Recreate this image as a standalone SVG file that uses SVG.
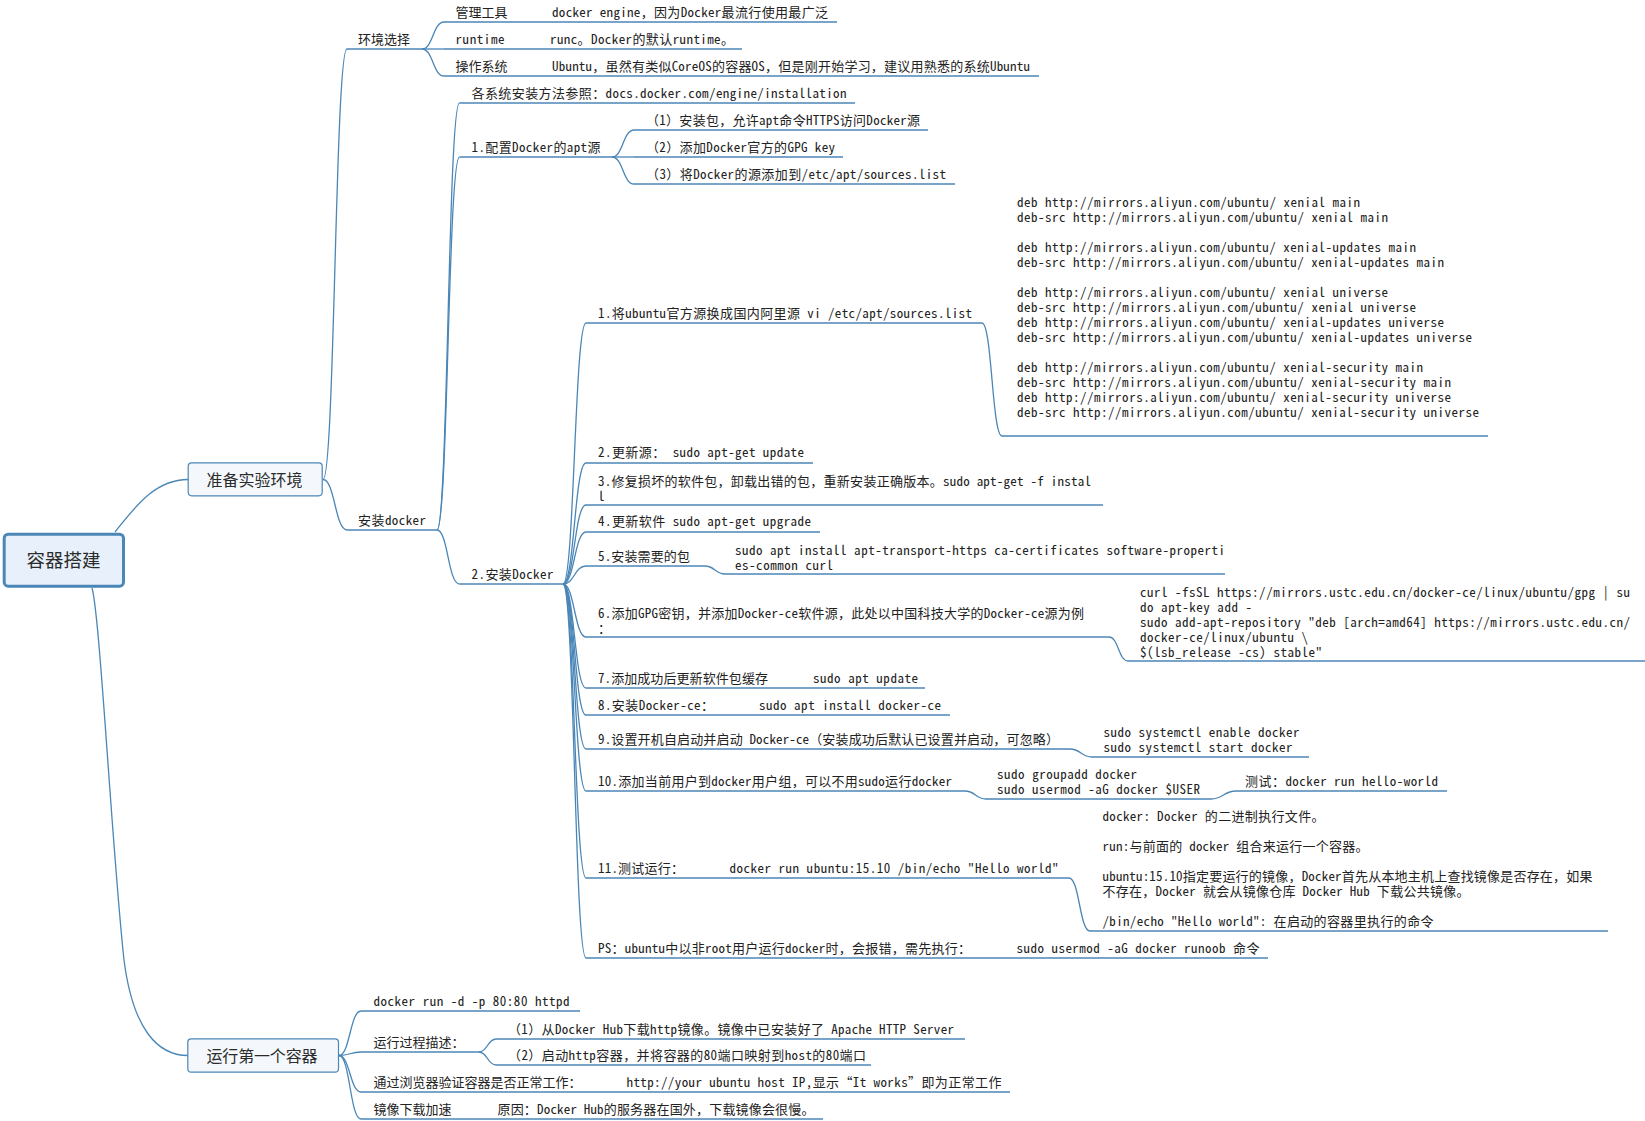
<svg xmlns="http://www.w3.org/2000/svg" width="1645" height="1121" viewBox="0 0 1645 1121">
<style>
.c{fill:none;stroke:#4a86b6;stroke-width:1.3}
.u{fill:none;stroke:#4a86b6;stroke-width:1.3}
.t{font-family:"Noto Sans Mono CJK SC","Noto Sans CJK SC",monospace;font-size:13px;fill:#222}
.big{font-family:"Noto Sans CJK SC",sans-serif;fill:#2b2b2b;text-anchor:middle}
.box{fill:#f4f8fc;stroke:#4a86b6;stroke-width:1.2}
.rootbox{fill:#e8f1fb;stroke:#4a86b6;stroke-width:3}
</style>
<rect width="1645" height="1121" fill="#ffffff"/>
<g id="connectors">
<path class="c" d="M115,532 C135,507 155,479.5 188,479.5"/>
<path class="c" d="M92,588 C100,615 112,850 124,960 C133,1030 158,1055.5 188,1055.5"/>
<path class="c" d="M323,479.5 C335,479.5 335,49 347,49"/>
<path class="c" d="M323,479.5 C335,479.5 335,530 347,530"/>
<path class="c" d="M422,49 C433,49 433,22 444,22"/>
<path class="c" d="M422,49 L444,49"/>
<path class="c" d="M422,49 C433,49 433,76 444,76"/>
<path class="c" d="M437,530 C448,530 448,103 459.5,103"/>
<path class="c" d="M437,530 C448,530 448,157 459.5,157"/>
<path class="c" d="M437,530 C448,530 448,584 459.5,584"/>
<path class="c" d="M612,157 C623,157 623,130 634,130"/>
<path class="c" d="M612,157 L634,157"/>
<path class="c" d="M612,157 C623,157 623,184 634,184"/>
<path class="c" d="M563,584 C574.5,584 574.5,323 586,323"/>
<path class="c" d="M563,584 C574.5,584 574.5,463 586,463"/>
<path class="c" d="M563,584 C574.5,584 574.5,505 586,505"/>
<path class="c" d="M563,584 C574.5,584 574.5,532 586,532"/>
<path class="c" d="M563,584 C574.5,584 574.5,566 586,566"/>
<path class="c" d="M563,584 C574.5,584 574.5,637 586,637"/>
<path class="c" d="M563,584 C574.5,584 574.5,688 586,688"/>
<path class="c" d="M563,584 C574.5,584 574.5,715 586,715"/>
<path class="c" d="M563,584 C574.5,584 574.5,749 586,749"/>
<path class="c" d="M563,584 C574.5,584 574.5,791 586,791"/>
<path class="c" d="M563,584 C574.5,584 574.5,878 586,878"/>
<path class="c" d="M563,584 C574.5,584 574.5,958 586,958"/>
<path class="c" d="M982,323 C992,323 992,436 1002,436"/>
<path class="c" d="M705,566 C715,566 715,574 725,574"/>
<path class="c" d="M1109,637 C1118.5,637 1118.5,661 1128,661"/>
<path class="c" d="M1070,749 C1081,749 1081,757 1092,757"/>
<path class="c" d="M965,791 C975.5,791 975.5,799 986,799"/>
<path class="c" d="M1211,799 C1223.5,799 1223.5,791 1236,791"/>
<path class="c" d="M1069,878 C1079.5,878 1079.5,931 1090,931"/>
<path class="c" d="M339,1055.5 C350,1055.5 350,1011 361,1011"/>
<path class="c" d="M339,1055.5 C350,1055.5 350,1052 361,1052"/>
<path class="c" d="M339,1055.5 C350,1055.5 350,1092 361,1092"/>
<path class="c" d="M339,1055.5 C350,1055.5 350,1119 361,1119"/>
<path class="c" d="M479,1052 C487.5,1052 487.5,1039 496,1039"/>
<path class="c" d="M479,1052 C487.5,1052 487.5,1065 496,1065"/>
</g>

<g id="n-root">
<rect class="rootbox" x="4.2" y="534.2" width="119.3" height="52" rx="4"/>
<text class="big" x="63.5" y="567" font-size="18.5" textLength="74">容器搭建</text>
</g>
<g id="n-prep">
<rect class="box" x="188.2" y="462.8" width="134" height="33" rx="3.5"/>
<text class="big" x="254.5" y="485.5" font-size="16" textLength="96">准备实验环境</text>
</g>
<g id="n-run">
<rect class="box" x="187.8" y="1038.8" width="150.7" height="33.4" rx="3.5"/>
<text class="big" x="262" y="1061.5" font-size="16" textLength="111">运行第一个容器</text>
</g>

<g id="n-env"><line class="u" x1="347" y1="49" x2="422" y2="49"/><text class="t" x="358" y="43.5" textLength="52">环境选择</text></g>
<g id="n-tool"><line class="u" x1="444" y1="22" x2="837" y2="22"/><text class="t" x="455.5" y="16.5" textLength="52">管理工具</text><text class="t" x="552" y="16.5" textLength="276">docker engine，因为Docker最流行使用最广泛</text></g>
<g id="n-runtime"><line class="u" x1="444" y1="49" x2="742" y2="49"/><text class="t" x="455.5" y="43.5" textLength="49">runtime</text><text class="t" x="550" y="43.5" textLength="184">runc。Docker的默认runtime。</text></g>
<g id="n-os"><line class="u" x1="444" y1="76" x2="1039" y2="76"/><text class="t" x="455.5" y="70.5" textLength="52">操作系统</text><text class="t" x="552" y="70.5" textLength="478">Ubuntu，虽然有类似CoreOS的容器OS，但是刚开始学习，建议用熟悉的系统Ubuntu</text></g>

<g id="n-install"><line class="u" x1="347" y1="530" x2="437" y2="530"/><text class="t" x="358" y="524.5" textLength="68">安装docker</text></g>
<g id="n-ref"><line class="u" x1="459.5" y1="103" x2="855" y2="103"/><text class="t" x="471.5" y="97.5" textLength="375">各系统安装方法参照：docs.docker.com/engine/installation</text></g>
<g id="n-apt"><line class="u" x1="459.5" y1="157" x2="612" y2="157"/><text class="t" x="471.5" y="151.5" textLength="129">1.配置Docker的apt源</text></g>
<g id="n-apt1"><line class="u" x1="634" y1="130" x2="928" y2="130"/><text class="t" x="646" y="124.5" textLength="274">（1）安装包，允许apt命令HTTPS访问Docker源</text></g>
<g id="n-apt2"><line class="u" x1="634" y1="157" x2="843" y2="157"/><text class="t" x="646" y="151.5" textLength="189">（2）添加Docker官方的GPG key</text></g>
<g id="n-apt3"><line class="u" x1="634" y1="184" x2="955" y2="184"/><text class="t" x="646" y="178.5" textLength="300">（3）将Docker的源添加到/etc/apt/sources.list</text></g>
<g id="n-inst2"><line class="u" x1="459.5" y1="584" x2="563" y2="584"/><text class="t" x="471.5" y="578.5" textLength="82">2.安装Docker</text></g>

<g id="n-s1"><line class="u" x1="586" y1="323" x2="982" y2="323"/><text class="t" x="598" y="317.5" textLength="374">1.将ubuntu官方源换成国内阿里源 vi /etc/apt/sources.list</text></g>
<g id="n-deb"><line class="u" x1="1002" y1="436" x2="1488" y2="436"/>
<text class="t"><tspan x="1017" y="206.5" textLength="343">deb http://mirrors.aliyun.com/ubuntu/ xenial main</tspan><tspan x="1017" y="221.5" textLength="371">deb-src http://mirrors.aliyun.com/ubuntu/ xenial main</tspan><tspan x="1017" y="251.5" textLength="399">deb http://mirrors.aliyun.com/ubuntu/ xenial-updates main</tspan><tspan x="1017" y="266.5" textLength="427">deb-src http://mirrors.aliyun.com/ubuntu/ xenial-updates main</tspan><tspan x="1017" y="296.5" textLength="371">deb http://mirrors.aliyun.com/ubuntu/ xenial universe</tspan><tspan x="1017" y="311.5" textLength="399">deb-src http://mirrors.aliyun.com/ubuntu/ xenial universe</tspan><tspan x="1017" y="326.5" textLength="427">deb http://mirrors.aliyun.com/ubuntu/ xenial-updates universe</tspan><tspan x="1017" y="341.5" textLength="455">deb-src http://mirrors.aliyun.com/ubuntu/ xenial-updates universe</tspan><tspan x="1017" y="371.5" textLength="406">deb http://mirrors.aliyun.com/ubuntu/ xenial-security main</tspan><tspan x="1017" y="386.5" textLength="434">deb-src http://mirrors.aliyun.com/ubuntu/ xenial-security main</tspan><tspan x="1017" y="401.5" textLength="434">deb http://mirrors.aliyun.com/ubuntu/ xenial-security universe</tspan><tspan x="1017" y="416.5" textLength="462">deb-src http://mirrors.aliyun.com/ubuntu/ xenial-security universe</tspan></text>
</g>
<g id="n-s2"><line class="u" x1="586" y1="463" x2="813" y2="463"/><text class="t" x="598" y="457" textLength="206">2.更新源： sudo apt-get update</text></g>
<g id="n-s3"><line class="u" x1="586" y1="505" x2="1103" y2="505"/><text class="t"><tspan x="598" y="485.5" textLength="493">3.修复损坏的软件包，卸载出错的包，重新安装正确版本。sudo apt-get -f instal</tspan><tspan x="598" y="500.5">l</tspan></text></g>
<g id="n-s4"><line class="u" x1="586" y1="532" x2="820" y2="532"/><text class="t" x="598" y="526" textLength="213">4.更新软件 sudo apt-get upgrade</text></g>
<g id="n-s5"><line class="u" x1="586" y1="566" x2="705" y2="566"/><text class="t" x="598" y="560.5" textLength="92">5.安装需要的包</text></g>
<g id="n-s5pkg"><line class="u" x1="725" y1="574" x2="1225" y2="574"/><text class="t"><tspan x="735" y="554.5" textLength="490">sudo apt install apt-transport-https ca-certificates software-properti</tspan><tspan x="735" y="569.5" textLength="98">es-common curl</tspan></text></g>
<g id="n-s6"><line class="u" x1="586" y1="637" x2="1109" y2="637"/><text class="t"><tspan x="598" y="618" textLength="486">6.添加GPG密钥，并添加Docker-ce软件源，此处以中国科技大学的Docker-ce源为例</tspan><tspan x="598" y="633">：</tspan></text></g>
<g id="n-s6cmd"><line class="u" x1="1128" y1="661" x2="1645" y2="661"/>
<text class="t"><tspan x="1140" y="596.5" textLength="490">curl -fsSL https://mirrors.ustc.edu.cn/docker-ce/linux/ubuntu/gpg | su</tspan><tspan x="1140" y="611.5" textLength="112">do apt-key add -</tspan><tspan x="1140" y="626.5" textLength="490">sudo add-apt-repository "deb [arch=amd64] https://mirrors.ustc.edu.cn/</tspan><tspan x="1140" y="641.5" textLength="168">docker-ce/linux/ubuntu \</tspan><tspan x="1140" y="656.5" textLength="182">$(lsb_release -cs) stable"</tspan></text>
</g>
<g id="n-s7"><line class="u" x1="586" y1="688" x2="925" y2="688"/><text class="t" x="598" y="682.5" textLength="170">7.添加成功后更新软件包缓存</text><text class="t" x="813" y="682.5" textLength="105">sudo apt update</text></g>
<g id="n-s8"><line class="u" x1="586" y1="715" x2="950" y2="715"/><text class="t" x="598" y="709.5" textLength="116">8.安装Docker-ce：</text><text class="t" x="759" y="709.5" textLength="182">sudo apt install docker-ce</text></g>
<g id="n-s9"><line class="u" x1="586" y1="749" x2="1070" y2="749"/><text class="t" x="598" y="743.5" textLength="461">9.设置开机自启动并启动 Docker-ce（安装成功后默认已设置并启动，可忽略）</text></g>
<g id="n-s9cmd"><line class="u" x1="1092" y1="757" x2="1309" y2="757"/><text class="t"><tspan x="1103.5" y="737" textLength="196">sudo systemctl enable docker</tspan><tspan x="1103.5" y="752" textLength="189">sudo systemctl start docker</tspan></text></g>
<g id="n-s10"><line class="u" x1="586" y1="791" x2="965" y2="791"/><text class="t" x="598" y="785.5" textLength="354">10.添加当前用户到docker用户组，可以不用sudo运行docker</text></g>
<g id="n-s10cmd"><line class="u" x1="986" y1="799" x2="1211" y2="799"/><text class="t"><tspan x="997" y="779" textLength="140">sudo groupadd docker</tspan><tspan x="997" y="794" textLength="203">sudo usermod -aG docker $USER</tspan></text></g>
<g id="n-s10test"><line class="u" x1="1236" y1="791" x2="1447" y2="791"/><text class="t" x="1245" y="785.5" textLength="193">测试：docker run hello-world</text></g>
<g id="n-s11"><line class="u" x1="586" y1="878" x2="1069" y2="878"/><text class="t" x="598" y="872.5" textLength="86">11.测试运行：</text><text class="t" x="729.5" y="872.5" textLength="329">docker run ubuntu:15.10 /bin/echo "Hello world"</text></g>
<g id="n-s11exp"><line class="u" x1="1090" y1="931" x2="1608" y2="931"/>
<text class="t"><tspan x="1102.5" y="821" textLength="222">docker: Docker 的二进制执行文件。</tspan><tspan x="1102.5" y="851" textLength="266">run:与前面的 docker 组合来运行一个容器。</tspan><tspan x="1102.5" y="881" textLength="490">ubuntu:15.10指定要运行的镜像，Docker首先从本地主机上查找镜像是否存在，如果</tspan><tspan x="1102.5" y="896" textLength="367">不存在，Docker 就会从镜像仓库 Docker Hub 下载公共镜像。</tspan><tspan x="1102.5" y="926" textLength="331">/bin/echo "Hello world": 在启动的容器里执行的命令</tspan></text>
</g>
<g id="n-ps"><line class="u" x1="586" y1="958" x2="1268" y2="958"/><text class="t" x="598" y="952.5" textLength="373">PS：ubuntu中以非root用户运行docker时，会报错，需先执行：</text><text class="t" x="1016.5" y="952.5" textLength="243">sudo usermod -aG docker runoob 命令</text></g>

<g id="n-r1"><line class="u" x1="361" y1="1011" x2="580" y2="1011"/><text class="t" x="373.5" y="1005.5" textLength="196">docker run -d -p 80:80 httpd</text></g>
<g id="n-r2"><line class="u" x1="361" y1="1052" x2="479" y2="1052"/><text class="t" x="373.5" y="1046.5" textLength="91">运行过程描述：</text></g>
<g id="n-r2a"><line class="u" x1="496" y1="1039" x2="965" y2="1039"/><text class="t" x="508" y="1033.5" textLength="446">（1）从Docker Hub下载http镜像。镜像中已安装好了 Apache HTTP Server</text></g>
<g id="n-r2b"><line class="u" x1="496" y1="1065" x2="871" y2="1065"/><text class="t" x="508" y="1059.5" textLength="358">（2）启动http容器，并将容器的80端口映射到host的80端口</text></g>
<g id="n-r3"><line class="u" x1="361" y1="1092" x2="1010" y2="1092"/><text class="t" x="373.5" y="1086.5" textLength="208">通过浏览器验证容器是否正常工作：</text><text class="t" x="626.5" y="1086.5" textLength="375">http://your ubuntu host IP,显示“It works”即为正常工作</text></g>
<g id="n-r4"><line class="u" x1="361" y1="1119" x2="823" y2="1119"/><text class="t" x="373.5" y="1113.5" textLength="78">镜像下载加速</text><text class="t" x="497.5" y="1113.5" textLength="317">原因：Docker Hub的服务器在国外，下载镜像会很慢。</text></g>
</svg>
